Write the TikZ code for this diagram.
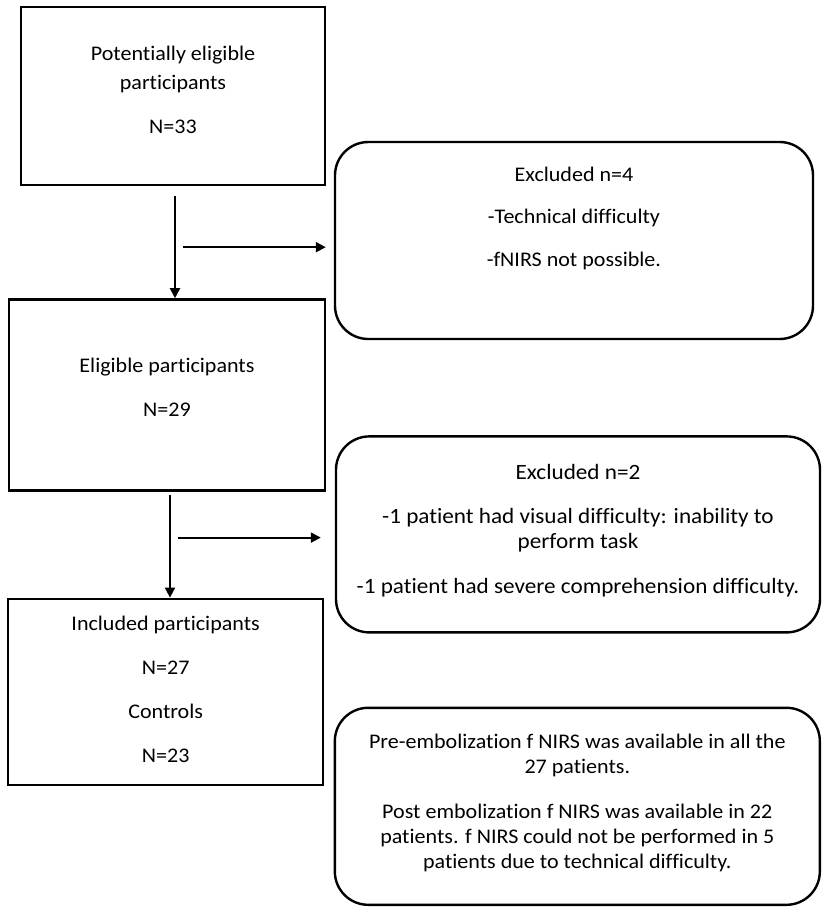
\documentclass[tikz,border=0pt]{standalone}
\usepackage{fontspec}
\setmainfont{Carlito}[Ligatures=NoCommon, FakeStretch=1.06]
\usetikzlibrary{positioning, arrows.meta}
\tikzset{
    >={Triangle[length=7.5pt,width=7.5pt]},
    flowbox/.style={draw, line width=1.8pt, align=center, font=\fontsize{15.6}{18.75}\selectfont},
    notebox/.style={flowbox, rounded corners=25pt}
}

\begin{document}
\begin{tikzpicture}[x=0.75pt, y=-0.75pt, arr/.style={->, line width=1.5pt}]
\useasboundingbox (0,0) rectangle (829,915);

% Main flow
\node[flowbox, minimum width=228pt, minimum height=133.5pt, text depth=9pt] (potential) at (173,96) {Potentially eligible\\[3pt] participants\\[14.25pt] N=33};
\node[flowbox, minimum width=237pt, minimum height=143.25pt, text depth=12pt] (eligible) [below=84pt of potential, xshift=-4.5pt] {Eligible participants\\[14.25pt] N=29};
\node[flowbox, minimum width=236.25pt, minimum height=139.5pt, text depth=4.5pt] (included) [below=79.5pt of eligible, xshift=-1pt] {Included participants\\[14.25pt] N=27\\[14.25pt] Controls\\[14.25pt] N=23};

% Side boxes
\node[notebox, minimum width=358.5pt, minimum height=147.75pt, text depth=36pt] (excl1) at (574,240.5) {Excluded n=4\\[13pt] -Technical difficulty\\[13pt] -fNIRS not possible.};
\node[notebox, minimum width=363pt, minimum height=147pt, text depth=8pt, font=\fontsize{16.4}{18.75}\selectfont] (excl2) [below=71.25pt of excl1, xshift=3pt] {Excluded n=2\\[14pt] -1 patient had visual difficulty: inability to\\ perform task\\[15pt] -1 patient had severe comprehension difficulty.};
\node[notebox, minimum width=363.75pt, minimum height=147.75pt, text depth=8.25pt] (fnirs) [below=54.75pt of excl2, xshift=-0.5pt] {Pre-embolization f NIRS was available in all the\\ 27 patients.\\[15pt] Post embolization f NIRS was available in 22\\ patients. f NIRS could not be performed in 5\\ patients due to technical difficulty.};

% Arrows
\coordinate (split1) at ([xshift=1.5pt,yshift=-7.5pt]potential.south);
\coordinate (branch1) at ([yshift=-38.25pt]split1);
\draw[arr] (split1) -- (split1 |- eligible.north);
\draw[arr, shorten >=6pt] ([xshift=6pt]branch1) -- (branch1 -| excl1.west);

\coordinate (split2) at ([xshift=2.25pt,yshift=-2.25pt]eligible.south);
\coordinate (branch2) at ([yshift=-32.25pt]split2);
\draw[arr] (split2) -- (split2 |- included.north);
\draw[arr, shorten >=10.5pt] ([xshift=6pt]branch2) -- (branch2 -| excl2.west);

\end{tikzpicture}
\end{document}
